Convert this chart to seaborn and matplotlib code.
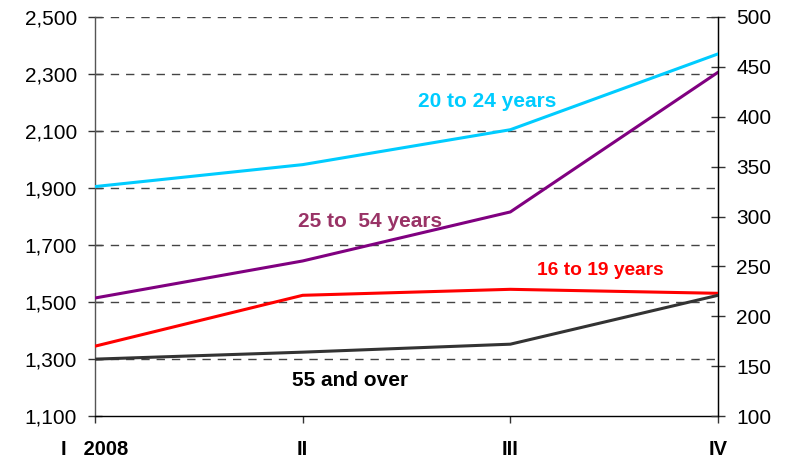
import matplotlib
matplotlib.use("Agg")
import matplotlib.pyplot as plt
import seaborn as sns
import pandas as pd

quarters = ["I   2008", "II", "III", "IV"]
age_25_54 = [1514, 1644, 1816, 2306]      # left axis
age_20_24 = [330, 352, 387, 463]          # right axis
age_16_19 = [170, 221, 227, 223]          # right axis
age_55_over = [157, 164, 172, 221]        # right axis

left_ticks = [1100, 1300, 1500, 1700, 1900, 2100, 2300, 2500]
right_ticks = [100, 150, 200, 250, 300, 350, 400, 450, 500]

sns.set_style("white")
plt.rcParams['font.family'] = ['Liberation Sans', 'DejaVu Sans']
plt.rcParams['text.color'] = 'black'
plt.rcParams['xtick.color'] = 'black'
plt.rcParams['ytick.color'] = 'black'

fig = plt.figure(figsize=(7.87, 4.62), dpi=100)
ax = fig.add_axes([95/787, 1-416/462, (718-95)/787, (416-17)/462])
ax2 = ax.twinx()

xs = list(range(len(quarters)))
df_left = pd.DataFrame({"x": xs, "y": age_25_54})
sns.lineplot(data=df_left, x="x", y="y", ax=ax, color="#800080", lw=2.2, zorder=5)

for vals, col in [(age_20_24, "#00CCFF"), (age_16_19, "#FF0000"), (age_55_over, "#333333")]:
    d = pd.DataFrame({"x": xs, "y": vals})
    sns.lineplot(data=d, x="x", y="y", ax=ax2, color=col, lw=2.2, zorder=5)

ax.set_xlim(0, 3)
ax.set_ylim(1100, 2500)
ax2.set_ylim(100, 500)
ax.set_yticks(left_ticks)
ax.set_yticklabels([f"{v:,}" for v in left_ticks])
ax2.set_yticks(right_ticks)
ax2.set_yticklabels([str(v) for v in right_ticks])
ax.set_xticks(xs)
ax.set_xticklabels(quarters, fontweight="bold")
ax.set_xlabel("")
ax.set_ylabel("")
ax2.set_ylabel("")

for v in left_ticks[1:]:
    ax.axhline(v, color="#444444", lw=1, ls=(0, (6, 5)), zorder=1)

for a in (ax, ax2):
    a.spines["top"].set_visible(False)
ax.spines["left"].set_color("#555555")
ax.spines["bottom"].set_color("black")
ax2.spines["right"].set_color("black")
ax2.spines["left"].set_visible(False)
ax2.spines["bottom"].set_visible(False)
for s in ("left", "bottom"):
    ax.spines[s].set_linewidth(1)
ax2.spines["right"].set_linewidth(1)

ax.tick_params(axis="y", direction="inout", length=10, width=1, color="#333333",
               labelsize=15, pad=8, left=True, labelcolor="black")
ax2.tick_params(axis="y", direction="inout", length=10, width=1, color="#333333",
                labelsize=15, pad=8, right=True, labelcolor="black")
ax.tick_params(axis="x", direction="out", length=5, width=1, color="#333333",
               labelsize=14.5, pad=12, bottom=True, labelcolor="black")

ax.text(1.888, 2205, "20 to 24 years", color="#00CCFF", fontsize=15,
        fontweight="bold", ha="center", va="center", zorder=6)
ax.text(1.324, 1784, "25 to  54 years", color="#993366", fontsize=15,
        fontweight="bold", ha="center", va="center", zorder=6)
ax.text(2.432, 1612, "16 to 19 years", color="#FF0000", fontsize=13.8,
        fontweight="bold", ha="center", va="center", zorder=6)
ax.text(1.228, 1226, "55 and over", color="black", fontsize=15,
        fontweight="bold", ha="center", va="center", zorder=6)

fig.savefig("out.png", dpi=100)
